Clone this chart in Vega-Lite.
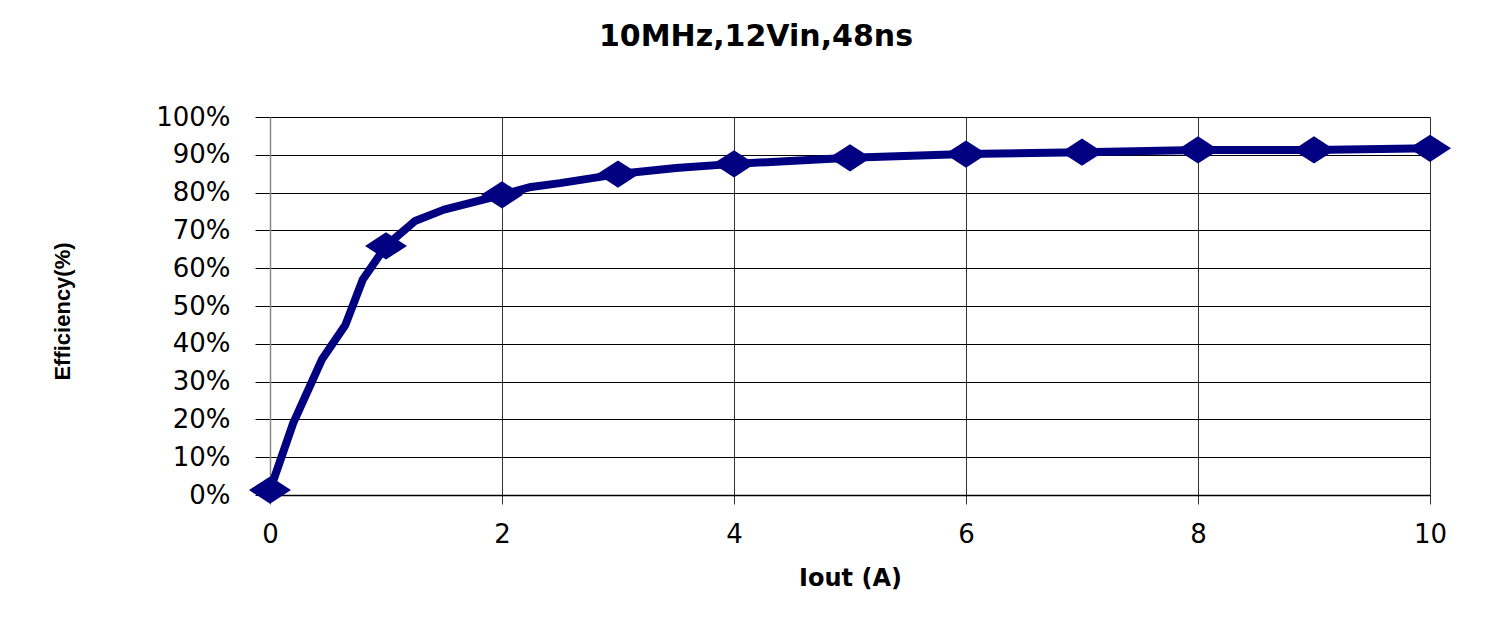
{
  "$schema": "https://vega.github.io/schema/vega-lite/v6.json",
  "width": 1160,
  "height": 378,
  "autosize": "none",
  "padding": {"left": 270, "top": 117, "right": 74, "bottom": 126},
  "background": "white",
  "config": {"view": {"stroke": null}},
  "title": {
    "text": "10MHz,12Vin,48ns",
    "font": "DejaVu Sans",
    "fontSize": 30,
    "fontWeight": "bold",
    "color": "#000",
    "anchor": "middle",
    "frame": "group",
    "baseline": "alphabetic",
    "dx": -94,
    "offset": 28
  },
  "datasets": {
    "curve": [
      {"Iout": 0, "Efficiency": 1.3},
      {"Iout": 0.2, "Efficiency": 19},
      {"Iout": 0.45, "Efficiency": 36},
      {"Iout": 0.65, "Efficiency": 45},
      {"Iout": 0.8, "Efficiency": 57},
      {"Iout": 1, "Efficiency": 65.9},
      {"Iout": 1.25, "Efficiency": 72.5},
      {"Iout": 1.5, "Efficiency": 75.5},
      {"Iout": 2, "Efficiency": 79.4},
      {"Iout": 2.25, "Efficiency": 81.5},
      {"Iout": 2.5, "Efficiency": 82.5},
      {"Iout": 3, "Efficiency": 84.9},
      {"Iout": 3.5, "Efficiency": 86.5},
      {"Iout": 4, "Efficiency": 87.6},
      {"Iout": 5, "Efficiency": 89.2},
      {"Iout": 6, "Efficiency": 90.2},
      {"Iout": 7, "Efficiency": 90.7},
      {"Iout": 8, "Efficiency": 91.3},
      {"Iout": 9, "Efficiency": 91.3},
      {"Iout": 10, "Efficiency": 91.7}
    ],
    "measured": [
      {"Iout": 0, "Efficiency": 1.3},
      {"Iout": 1, "Efficiency": 65.9},
      {"Iout": 2, "Efficiency": 79.4},
      {"Iout": 3, "Efficiency": 84.9},
      {"Iout": 4, "Efficiency": 87.6},
      {"Iout": 5, "Efficiency": 89.2},
      {"Iout": 6, "Efficiency": 90.2},
      {"Iout": 7, "Efficiency": 90.7},
      {"Iout": 8, "Efficiency": 91.3},
      {"Iout": 9, "Efficiency": 91.3},
      {"Iout": 10, "Efficiency": 91.7}
    ]
  },
  "encoding": {
    "x": {
      "field": "Iout",
      "type": "quantitative",
      "scale": {"domain": [0, 10], "nice": false, "zero": false},
      "axis": {
        "title": "Iout (A)",
        "values": [0, 2, 4, 6, 8, 10],
        "grid": true,
        "gridColor": "#333",
        "gridWidth": 1,
        "domain": true,
        "domainColor": "#000",
        "domainWidth": 1.5,
        "ticks": true,
        "tickColor": "#333",
        "tickSize": 9,
        "labelFont": "DejaVu Sans",
        "labelFontSize": 26,
        "labelColor": "#000",
        "labelBaseline": "alphabetic",
        "labelPadding": 38,
        "labelFlush": false,
        "titleFont": "DejaVu Sans",
        "titleFontSize": 24,
        "titleFontWeight": "bold",
        "titleColor": "#000",
        "titleBaseline": "alphabetic",
        "titleX": 580,
        "titleY": 90
      }
    },
    "y": {
      "field": "Efficiency",
      "type": "quantitative",
      "scale": {"domain": [0, 100], "nice": false},
      "axis": {
        "title": "Efficiency(%)",
        "values": [0, 10, 20, 30, 40, 50, 60, 70, 80, 90, 100],
        "labelExpr": "datum.value + '%'",
        "grid": true,
        "gridColor": "#000",
        "gridWidth": 1.2,
        "domain": true,
        "domainColor": "#888",
        "domainWidth": 1.5,
        "ticks": true,
        "tickColor": "#000",
        "tickSize": 15,
        "labelFont": "DejaVu Sans",
        "labelFontSize": 26,
        "labelColor": "#000",
        "labelPadding": 25,
        "labelBaseline": "middle",
        "labelFlush": false,
        "titleFont": "Liberation Sans",
        "titleFontSize": 22,
        "titleFontWeight": "bold",
        "titleColor": "#000",
        "titleAngle": -90,
        "titleAlign": "center",
        "titleBaseline": "middle",
        "titleX": -208,
        "titleY": 194
      }
    }
  },
  "layer": [
    {
      "data": {"name": "curve"},
      "mark": {"type": "line", "color": "#000080", "strokeWidth": 8, "strokeJoin": "round", "strokeCap": "round"}
    },
    {
      "data": {"name": "measured"},
      "mark": {"type": "point", "shape": "M-1,0L0,-0.65L1,0L0,0.65Z", "size": 1764, "filled": true, "color": "#000080", "opacity": 1}
    }
  ]
}
